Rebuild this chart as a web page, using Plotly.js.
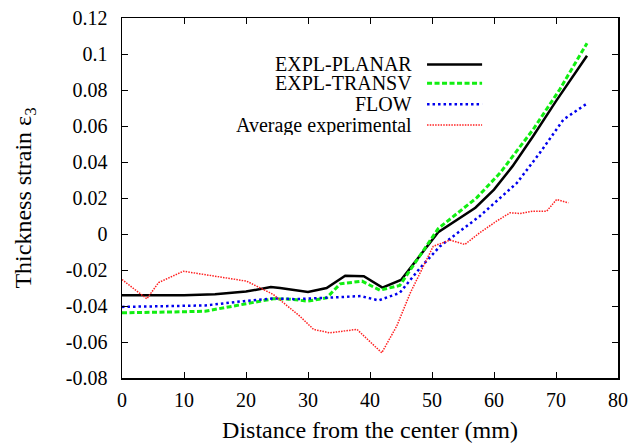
<!DOCTYPE html>
<html>
<head>
<meta charset="utf-8">
<script src="https://cdn.plot.ly/plotly-3.0.1.min.js"></script>
<style>
html,body{margin:0;padding:0;background:#fff;}
#chart{width:633px;height:445px;}
</style>
</head>
<body>
<div id="chart"></div>
<script>
// Series data (distance in mm, thickness strain)
const seriesNames = ["EXPL-PLANAR", "EXPL-TRANSV", "FLOW", "Average experimental"];

const xPlanar = [0, 10, 15, 20, 24, 25.5, 30, 33, 36, 39, 42, 45, 51, 57, 60, 63, 66.3, 70, 75];
const yPlanar = [-0.034, -0.034, -0.0335, -0.032, -0.0295, -0.030, -0.0322, -0.030, -0.0232, -0.0235, -0.0298, -0.0255, 0.001, 0.0146, 0.0247, 0.0377, 0.0543, 0.0738, 0.099];

const xTransv = [0, 5, 10, 13.4, 19.6, 24.4, 27, 30, 33, 35.2, 38.7, 41.6, 44.8, 51, 57.2, 61, 66.3, 70.6, 75];
const yTransv = [-0.0438, -0.0437, -0.0432, -0.0429, -0.0388, -0.036, -0.0362, -0.0373, -0.0355, -0.0277, -0.0262, -0.0312, -0.0286, 0.003, 0.0201, 0.034, 0.058, 0.0803, 0.106];

const xFlow = [0, 5, 10, 13.4, 19.6, 24.4, 28, 33, 38.5, 41.4, 44.8, 47, 48.1, 51.3, 57.7, 63.7, 67.4, 71.2, 75];
const yFlow = [-0.0405, -0.0403, -0.040, -0.0397, -0.0373, -0.0358, -0.0362, -0.0355, -0.0345, -0.0369, -0.0327, -0.0234, -0.0188, -0.0068, 0.0099, 0.0284, 0.0451, 0.0636, 0.0725];

const xExp = [0, 4, 5.9, 9.9, 20.1, 24.4, 28.7, 30.9, 33.5, 37.9, 41.9, 44.3, 46.5, 48.6, 50.2, 52.9, 55.3, 57.7, 60.4, 62.6, 64.2, 66.3, 68.5, 70.1, 72];
const yExp = [-0.0253, -0.036, -0.027, -0.0207, -0.0262, -0.0336, -0.0457, -0.053, -0.0549, -0.053, -0.066, -0.0512, -0.0327, -0.0179, -0.0068, -0.0034, -0.0058, 0.0007, 0.0071, 0.0118, 0.0114, 0.0127, 0.0127, 0.0192, 0.0173];

// Tick labels
const xTickVals = [0, 10, 20, 30, 40, 50, 60, 70, 80];
const xTickText = ["0", "10", "20", "30", "40", "50", "60", "70", "80"];
const yTickVals = [0.12, 0.1, 0.08, 0.06, 0.04, 0.02, 0, -0.02, -0.04, -0.06, -0.08];
const yTickText = ["0.12", "0.1", "0.08", "0.06", "0.04", "0.02", "0", "-0.02", "-0.04", "-0.06", "-0.08"];

const styles = [
  {color: "#000000", width: 2.5, dash: "solid"},
  {color: "#11ee11", width: 3, dash: "5px,2.5px"},
  {color: "#0000ee", width: 2.5, dash: "2.5px,3px"},
  {color: "#ff2020", width: 1.5, dash: "1.5px,1.2px"}
];
const xs = [xPlanar, xTransv, xFlow, xExp];
const ys = [yPlanar, yTransv, yFlow, yExp];

const traces = seriesNames.map((n, i) => ({
  x: xs[i], y: ys[i], name: n, type: "scatter", mode: "lines",
  line: {color: styles[i].color, width: styles[i].width, dash: styles[i].dash},
  showlegend: false, hoverinfo: "skip"
}));

const font = "Liberation Serif";
const legendRowY = [0.871, 0.8186, 0.7603, 0.7028];
const annotations = seriesNames.map((n, i) => ({
  xref: "paper", yref: "paper", x: 0.587, y: legendRowY[i],
  xanchor: "right", yanchor: "middle", text: n, showarrow: false,
  height: 20, valign: "middle", borderpad: 0,
  font: {family: font, size: 20, color: "#000"}
}));
const shapes = seriesNames.map((n, i) => ({
  type: "line", xref: "paper", yref: "paper",
  x0: 0.615, x1: 0.726, y0: legendRowY[i], y1: legendRowY[i],
  line: {color: styles[i].color, width: styles[i].width, dash: styles[i].dash}
}));

const layout = {
  width: 633, height: 445,
  margin: {l: 122, r: 15, t: 18, b: 67},
  paper_bgcolor: "#fff", plot_bgcolor: "#fff",
  font: {family: font, size: 20, color: "#000"},
  showlegend: false,
  xaxis: {
    range: [0, 80], tickvals: xTickVals, ticktext: xTickText,
    ticks: "inside", ticklen: 6, tickwidth: 1, tickcolor: "#000",
    showline: true, linecolor: "#000", linewidth: 1.5, mirror: "ticks",
    showgrid: false, zeroline: false, ticklabelstandoff: 3,
    tickfont: {family: font, size: 20},
    title: {text: "Distance from the center (mm)", font: {family: font, size: 24}, standoff: 11}
  },
  yaxis: {
    range: [-0.08, 0.12], tickvals: yTickVals, ticktext: yTickText,
    ticks: "inside", ticklen: 6, tickwidth: 1, tickcolor: "#000",
    showline: true, linecolor: "#000", linewidth: 1.5, mirror: "ticks",
    showgrid: false, zeroline: false, ticklabelstandoff: 9,
    tickfont: {family: font, size: 20},
    title: {text: "Thickness strain ε<sub>3</sub>", font: {family: font, size: 24}, standoff: 27}
  },
  annotations: annotations,
  shapes: shapes
};

Plotly.newPlot("chart", traces, layout, {staticPlot: true, displayModeBar: false});
</script>
</body>
</html>
